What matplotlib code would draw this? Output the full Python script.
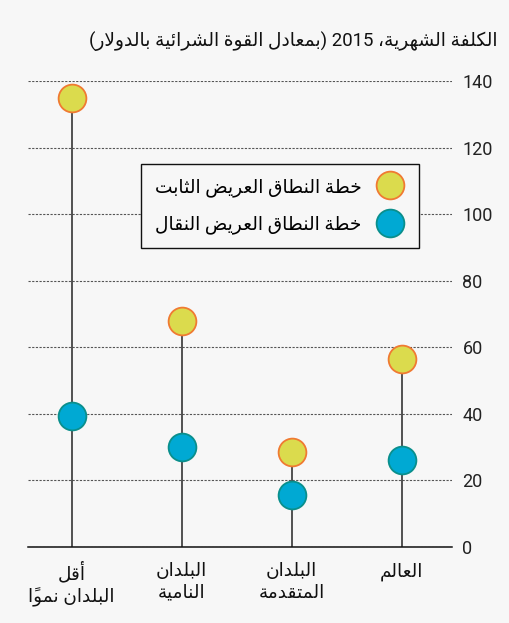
#!/usr/bin/env python3
"""
Monthly cost of broadband plans, 2015 (PPP dollars) - lollipop chart, Arabic labels
"""
import matplotlib
matplotlib.use('Agg')
import matplotlib.pyplot as plt
from matplotlib.lines import Line2D

# data
CATEGORIES = ['أقل\nالبلدان نمواً', 'البلدان\nالنامية', 'البلدان\nالمتقدمة', 'العالم']
FIXED = [135, 68, 28.5, 56.5]      # fixed broadband plan
MOBILE = [39.5, 30, 15.5, 26]      # mobile broadband plan
Y_TICKS = [0, 20, 40, 60, 80, 100, 120, 140]
TITLE_MAIN = 'الكلفة الشهرية،'
TITLE_YEAR = '2015'
TITLE_NOTE = 'بمعادل القوة الشرائية بالدولار'
LEGEND_LABELS = ['خطة النطاق العريض الثابت', 'خطة النطاق العريض النقال']

BG = '#f7f7f7'
FIXED_FACE, FIXED_EDGE = '#dbdb4d', '#f07a32'
MOBILE_FACE, MOBILE_EDGE = '#00a9d3', '#0a8f8c'
FONT = ['Roboto', 'DejaVu Sans']
NUM_FONT = ['Liberation Sans Narrow', 'Roboto']

# arabic presentation forms: isolated, final, initial, medial
FORMS = {
    'ا': ('\uFE8D', '\uFE8E', None, None),
    'أ': ('\uFE83', '\uFE84', None, None),
    'ب': ('\uFE8F', '\uFE90', '\uFE91', '\uFE92'),
    'ة': ('\uFE93', '\uFE94', None, None),
    'ت': ('\uFE95', '\uFE96', '\uFE97', '\uFE98'),
    'ث': ('\uFE99', '\uFE9A', '\uFE9B', '\uFE9C'),
    'خ': ('\uFEA5', '\uFEA6', '\uFEA7', '\uFEA8'),
    'د': ('\uFEA9', '\uFEAA', None, None),
    'ر': ('\uFEAD', '\uFEAE', None, None),
    'ش': ('\uFEB5', '\uFEB6', '\uFEB7', '\uFEB8'),
    'ض': ('\uFEBD', '\uFEBE', '\uFEBF', '\uFEC0'),
    'ط': ('\uFEC1', '\uFEC2', '\uFEC3', '\uFEC4'),
    'ع': ('\uFEC9', '\uFECA', '\uFECB', '\uFECC'),
    'ف': ('\uFED1', '\uFED2', '\uFED3', '\uFED4'),
    'ق': ('\uFED5', '\uFED6', '\uFED7', '\uFED8'),
    'ك': ('\uFED9', '\uFEDA', '\uFEDB', '\uFEDC'),
    'ل': ('\uFEDD', '\uFEDE', '\uFEDF', '\uFEE0'),
    'م': ('\uFEE1', '\uFEE2', '\uFEE3', '\uFEE4'),
    'ن': ('\uFEE5', '\uFEE6', '\uFEE7', '\uFEE8'),
    'ه': ('\uFEE9', '\uFEEA', '\uFEEB', '\uFEEC'),
    'و': ('\uFEED', '\uFEEE', None, None),
    'ي': ('\uFEF1', '\uFEF2', '\uFEF3', '\uFEF4'),
    'ئ': ('\uFE89', '\uFE8A', '\uFE8B', '\uFE8C'),
    'لا': ('\uFEFB', '\uFEFC', None, None),
    'لأ': ('\uFEF7', '\uFEF8', None, None),
}
MARKS = {'\u064B', '\u064E', '\u0650', '\u064F', '\u0651', '\u0652'}


def shape_line(line):
    """reshape + reverse one line of pure arabic text (no bidi mixing)"""
    tokens = []
    for ch in line:
        if ch in MARKS and tokens:
            tokens[-1][1] += ch
        elif tokens and tokens[-1][0] == 'ل' and ch in 'اأ' and not tokens[-1][1]:
            tokens[-1][0] = 'ل' + ch
        else:
            tokens.append([ch, ''])
    glyphs = []
    for i, (base, marks) in enumerate(tokens):
        f = FORMS.get(base)
        if f is None:
            glyphs.append(base + marks)
            continue
        prev = tokens[i - 1][0] if i > 0 else None
        nxt = tokens[i + 1][0] if i + 1 < len(tokens) else None
        jp = prev in FORMS and FORMS[prev][2] is not None
        jn = f[2] is not None and nxt in FORMS
        if jp and jn:
            g = f[3]
        elif jp:
            g = f[1]
        elif jn:
            g = f[2]
        else:
            g = f[0]
        glyphs.append(g + marks)
    return ''.join(reversed(glyphs))


def ar(text):
    return '\n'.join(shape_line(l) for l in text.split('\n'))


def main():
    fig = plt.figure(figsize=(5.1, 6.23), dpi=100, facecolor=BG)
    ax = fig.add_axes([28 / 510, 76 / 623, 424 / 510, 466 / 623])
    ax.set_facecolor(BG)

    xs = list(range(len(CATEGORIES)))
    ax.vlines(xs, 0, FIXED, color='#444444', lw=1.3, zorder=2)
    ax.plot(xs, FIXED, 'o', ms=20, mfc=FIXED_FACE, mec=FIXED_EDGE, mew=1.3,
            ls='none', zorder=3, clip_on=False)
    ax.plot(xs, MOBILE, 'o', ms=20, mfc=MOBILE_FACE, mec=MOBILE_EDGE, mew=1.3,
            ls='none', zorder=3, clip_on=False)

    ax.set_xlim(-0.397, 3.457)
    ax.set_ylim(0, 140)
    ax.set_yticks(Y_TICKS)
    ax.yaxis.tick_right()
    ax.tick_params(axis='y', length=0, pad=7.5, labelsize=13, labelcolor='#222222')
    for lab in ax.get_yticklabels():
        lab.set_fontfamily(NUM_FONT)
    ax.grid(axis='y', color='#555555', lw=0.8, linestyle=(0, (2, 1.3)))
    ax.set_axisbelow(True)

    ax.set_xticks(xs)
    ax.set_xticklabels([ar(c) for c in CATEGORIES], fontfamily=FONT, fontsize=13.3,
                       linespacing=1.25, color='#111111')
    ax.tick_params(axis='x', length=0, pad=11)

    for s in ['top', 'left', 'right']:
        ax.spines[s].set_visible(False)
    ax.spines['bottom'].set_color('#111111')
    ax.spines['bottom'].set_linewidth(1.1)

    # legend, markers on the right (rtl)
    handles = [
        Line2D([], [], marker='o', ls='none', ms=20, mfc=FIXED_FACE, mec=FIXED_EDGE, mew=1.3),
        Line2D([], [], marker='o', ls='none', ms=20, mfc=MOBILE_FACE, mec=MOBILE_EDGE, mew=1.3),
    ]
    leg = ax.legend(handles, [ar(t) for t in LEGEND_LABELS], loc='upper center',
                    bbox_to_anchor=(0.594, 0.822), markerfirst=False, fancybox=False,
                    framealpha=1, facecolor=BG, edgecolor='#111111',
                    prop={'family': FONT, 'size': 13.4}, labelspacing=1.0,
                    handletextpad=0.75, borderpad=0.75, handlelength=1.6,
                    borderaxespad=0)
    leg.get_frame().set_linewidth(1.0)

    title = '(' + ar(TITLE_NOTE) + ') ' + TITLE_YEAR + ' ' + ar(TITLE_MAIN)
    fig.text(498 / 510, 1 - 41 / 623, title, ha='right', va='center',
             fontfamily=FONT, fontsize=13.4, color='#111111')

    fig.savefig('out.png', dpi=100, facecolor=BG)
    plt.close(fig)


if __name__ == '__main__':
    main()
